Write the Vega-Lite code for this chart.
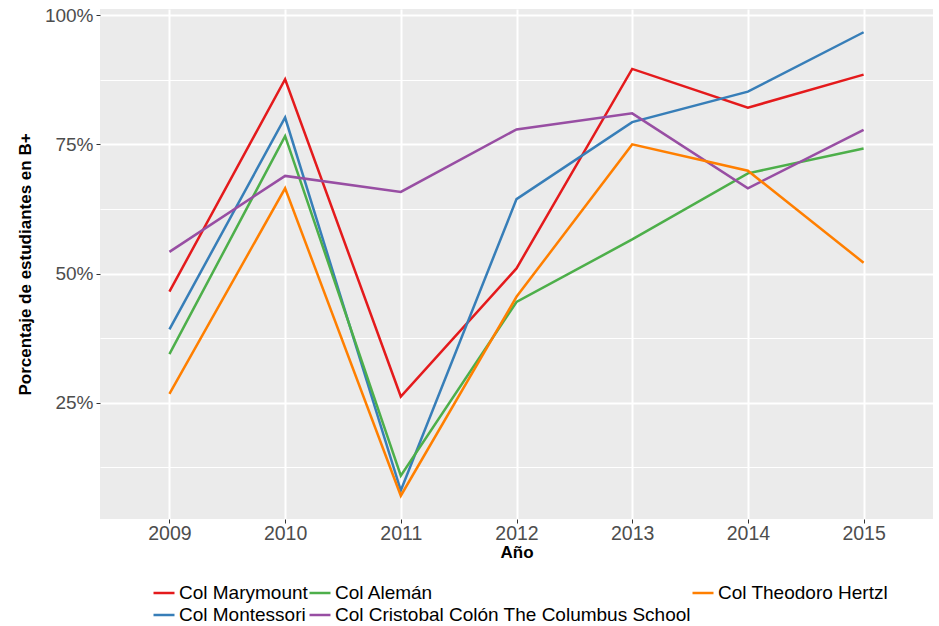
{
  "$schema": "https://vega.github.io/schema/vega-lite/v6.json",
  "autosize": "none",
  "width": 833,
  "height": 510,
  "padding": {"left": 100, "top": 9, "right": 6, "bottom": 107},
  "background": "white",
  "config": {
    "view": {"fill": "#EBEBEB", "stroke": null},
    "font": "Liberation Sans"
  },
  "data": {
    "values": [
      {"year": 2009, "school": "Col Marymount", "pct": 46.5},
      {"year": 2010, "school": "Col Marymount", "pct": 87.6},
      {"year": 2011, "school": "Col Marymount", "pct": 26.2},
      {"year": 2012, "school": "Col Marymount", "pct": 51.0},
      {"year": 2013, "school": "Col Marymount", "pct": 89.6},
      {"year": 2014, "school": "Col Marymount", "pct": 82.1},
      {"year": 2015, "school": "Col Marymount", "pct": 88.5},
      {"year": 2009, "school": "Col Montessori", "pct": 39.2},
      {"year": 2010, "school": "Col Montessori", "pct": 80.2},
      {"year": 2011, "school": "Col Montessori", "pct": 8.0},
      {"year": 2012, "school": "Col Montessori", "pct": 64.4},
      {"year": 2013, "school": "Col Montessori", "pct": 79.3},
      {"year": 2014, "school": "Col Montessori", "pct": 85.2},
      {"year": 2015, "school": "Col Montessori", "pct": 96.7},
      {"year": 2009, "school": "Col Alemán", "pct": 34.4},
      {"year": 2010, "school": "Col Alemán", "pct": 76.6},
      {"year": 2011, "school": "Col Alemán", "pct": 10.9},
      {"year": 2012, "school": "Col Alemán", "pct": 44.5},
      {"year": 2013, "school": "Col Alemán", "pct": 56.6},
      {"year": 2014, "school": "Col Alemán", "pct": 69.4},
      {"year": 2015, "school": "Col Alemán", "pct": 74.2},
      {"year": 2009, "school": "Col Cristobal Colón The Columbus School", "pct": 54.2},
      {"year": 2010, "school": "Col Cristobal Colón The Columbus School", "pct": 68.9},
      {"year": 2011, "school": "Col Cristobal Colón The Columbus School", "pct": 65.8},
      {"year": 2012, "school": "Col Cristobal Colón The Columbus School", "pct": 77.9},
      {"year": 2013, "school": "Col Cristobal Colón The Columbus School", "pct": 81.0},
      {"year": 2014, "school": "Col Cristobal Colón The Columbus School", "pct": 66.5},
      {"year": 2015, "school": "Col Cristobal Colón The Columbus School", "pct": 77.8},
      {"year": 2009, "school": "Col Theodoro Hertzl", "pct": 26.7},
      {"year": 2010, "school": "Col Theodoro Hertzl", "pct": 66.5},
      {"year": 2011, "school": "Col Theodoro Hertzl", "pct": 7.0},
      {"year": 2012, "school": "Col Theodoro Hertzl", "pct": 45.5},
      {"year": 2013, "school": "Col Theodoro Hertzl", "pct": 75.0},
      {"year": 2014, "school": "Col Theodoro Hertzl", "pct": 69.9},
      {"year": 2015, "school": "Col Theodoro Hertzl", "pct": 52.1}
    ]
  },
  "mark": {"type": "line", "strokeWidth": 2.5},
  "encoding": {
    "x": {
      "field": "year",
      "type": "ordinal",
      "scale": {"type": "point", "padding": 0.6},
      "axis": {
        "title": "Año",
        "titleFont": "Liberation Sans",
        "titleFontSize": 17,
        "titleFontWeight": "bold",
        "titleColor": "black",
        "titlePadding": 2,
        "labelAngle": 0,
        "labelFont": "Liberation Sans",
        "labelFontSize": 19.5,
        "labelColor": "#4D4D4D",
        "labelPadding": 1,
        "tickSize": 4,
        "tickColor": "#333333",
        "domain": false,
        "grid": true,
        "gridColor": "white",
        "gridWidth": 2
      }
    },
    "y": {
      "field": "pct",
      "type": "quantitative",
      "scale": {"domain": [2.5, 101.2], "nice": false, "zero": false},
      "axis": {
        "title": "Porcentaje de estudiantes en B+",
        "titleFont": "Liberation Sans",
        "titleFontSize": 17,
        "titleFontWeight": "bold",
        "titleColor": "black",
        "titlePadding": 10,
        "values": [12.5, 25, 37.5, 50, 62.5, 75, 87.5, 100],
        "labelExpr": "datum.value % 25 === 0 ? datum.value + '%' : ''",
        "labelFont": "Liberation Sans",
        "labelFontSize": 19,
        "labelColor": "#4D4D4D",
        "labelPadding": 3,
        "tickSize": 4,
        "tickColor": "#333333",
        "tickOpacity": {"condition": {"test": "datum.value % 25 === 0", "value": 1}, "value": 0},
        "domain": false,
        "grid": true,
        "gridColor": "white",
        "gridWidth": {"condition": {"test": "datum.value % 25 === 0", "value": 2}, "value": 1}
      }
    },
    "color": {
      "field": "school",
      "type": "nominal",
      "scale": {
        "domain": ["Col Marymount", "Col Alemán", "Col Theodoro Hertzl", "Col Montessori", "Col Cristobal Colón The Columbus School"],
        "range": ["#E41A1C", "#4DAF4A", "#FF7F00", "#377EB8", "#984EA3"]
      },
      "legend": {
        "title": null,
        "orient": "none",
        "legendX": 52,
        "legendY": 572,
        "direction": "horizontal",
        "columns": 3,
        "gridAlign": "each",
        "columnPadding": -10,
        "rowPadding": 0,
        "symbolType": "stroke",
        "symbolSize": 441,
        "symbolStrokeWidth": 2.5,
        "labelFont": "Liberation Sans",
        "labelFontSize": 19,
        "labelColor": "black",
        "labelOffset": 3,
        "labelLimit": 500
      }
    }
  }
}
